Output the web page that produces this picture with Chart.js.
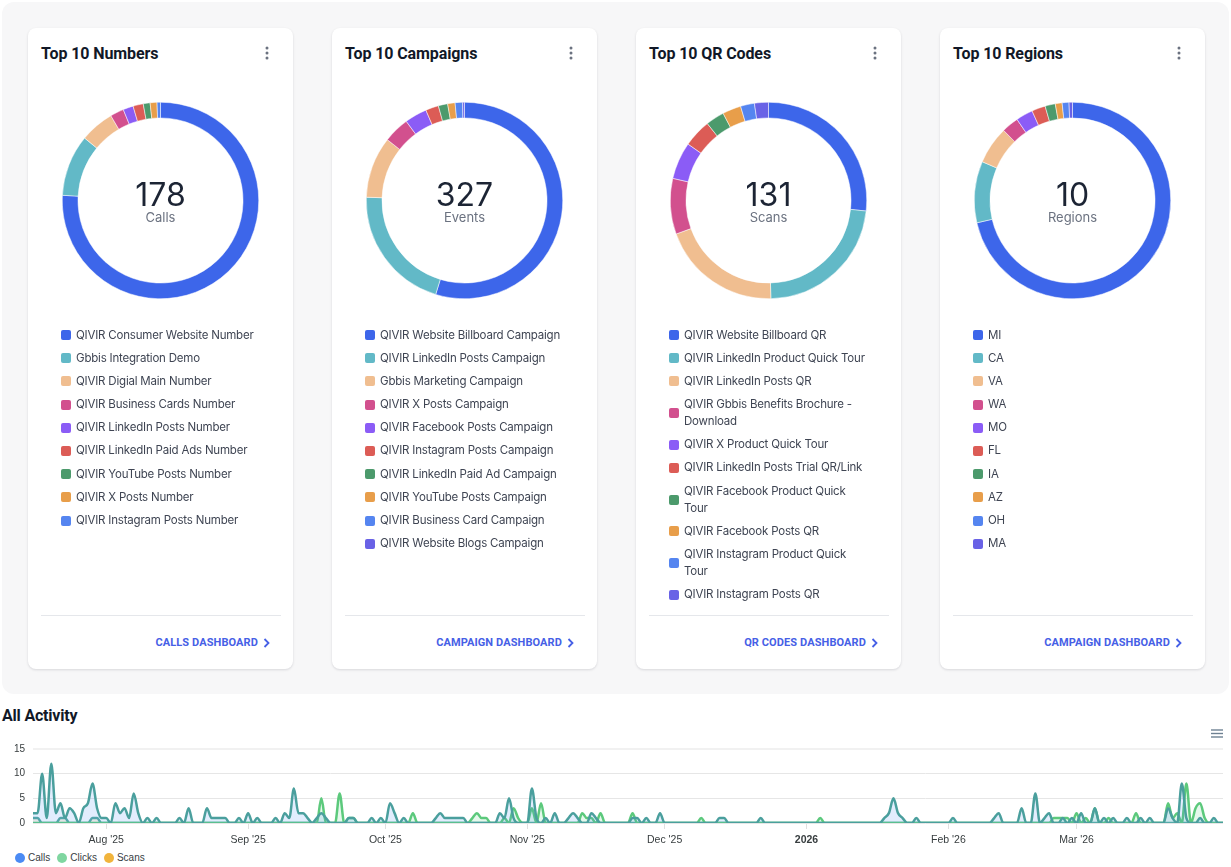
<!DOCTYPE html>
<html>
<head>
<meta charset="utf-8">
<script src="https://cdn.jsdelivr.net/npm/chart.js@4.4.0/dist/chart.umd.min.js"></script>
<style>
  body { margin: 0; width: 1231px; height: 867px; overflow: hidden; background: #fff; position: relative; font-family: Inter, sans-serif; }
  .panel { position: absolute; left: 2px; top: 2px; width: 1227px; height: 692px; background: #f7f7f8; border-radius: 12px; }
  .card { position: absolute; top: 28px; width: 265px; height: 641px; background: #fff; border-radius: 8px; box-shadow: 0 1px 3px rgba(16,24,40,0.10), 0 1px 2px rgba(16,24,40,0.04); }
  .title { position: absolute; left: 13px; top: 16px; font: 700 16px Roboto, sans-serif; line-height: 20px; color: #111827; letter-spacing: -0.1px; }
  .kebab { position: absolute; left: 237px; top: 18px; width: 4px; height: 14px; }
  .donut { position: absolute; left: 34px; top: 73.5px; width: 197px; height: 197px; }
  .center { position: absolute; left: 34px; top: 73.5px; width: 197px; height: 197px; text-align: center; pointer-events: none; }
  .num { position: absolute; left: 0; right: 0; top: 75px; font-size: 32px; line-height: 36px; color: #1c2434; font-weight: 400; }
  .unit { position: absolute; left: 0; right: 0; top: 107px; font-size: 13px; line-height: 16px; color: #6b7280; }
  ul.legend { position: absolute; left: 33px; top: 298.5px; width: 210px; margin: 0; padding: 0; list-style: none; }
  ul.legend li { display: flex; align-items: center; font-size: 11.5px; letter-spacing: -0.2px; line-height: 17px; color: #3f4553; margin-bottom: 6.2px; }
  ul.legend li span.sq { flex: 0 0 10px; width: 10px; height: 10px; border-radius: 2px; margin-right: 5px; }
  ul.legend li span.tx { max-width: 188px; }
  .divider { position: absolute; left: 13px; top: 587px; width: 240px; height: 1px; background: #e5e7eb; }
  .link { position: absolute; right: 23px; top: 607px; font: 700 11px Roboto, sans-serif; line-height: 16px; color: #4660e6; letter-spacing: 0.1px; display: flex; align-items: center; }
  .link svg { margin-left: 5px; }
  .act-title { position: absolute; left: 2px; top: 706px; font: 700 16px Roboto, sans-serif; line-height: 20px; color: #111827; letter-spacing: -0.2px; }
  .act-wrap { position: absolute; left: 0; top: 735px; width: 1231px; height: 115px; }
  .menu { position: absolute; left: 1211px; top: 729px; width: 12px; height: 9px; }
  .act-legend { position: absolute; left: 15px; top: 851px; font: 10px "Liberation Sans", Arial, sans-serif; color: #373d3f; display: flex; }
  .act-legend div { display: flex; align-items: center; margin-right: 7px; line-height: 14px; }
  .act-legend i { width: 10px; height: 10px; border-radius: 50%; margin-right: 3px; display: inline-block; }
</style>
</head>
<body>
<div class="panel"></div>
<div id="cards"></div>
<div class="act-title">All Activity</div>
<svg class="menu" viewBox="0 0 12 9"><g stroke="#6e8192" stroke-width="1.4"><line x1="0" y1="1" x2="12" y2="1"/><line x1="0" y1="4.5" x2="12" y2="4.5"/><line x1="0" y1="8" x2="12" y2="8"/></g></svg>
<div class="act-wrap"><canvas id="activity"></canvas></div>
<div class="act-legend" id="actLegend"></div>

<script>
// ---- donut cards ----
const sliceColors = ["#3d66ea", "#62b9c7", "#f0be90", "#d2508e", "#8b5cf6", "#dc5c56", "#4c9a6c", "#e89e4a", "#5585f0", "#6962e6"];

const cardTitles = ["Top 10 Numbers", "Top 10 Campaigns", "Top 10 QR Codes", "Top 10 Regions"];
const centerTotals = ["178", "327", "131", "10"];
const centerUnits = ["Calls", "Events", "Scans", "Regions"];
const linkTexts = ["CALLS DASHBOARD", "CAMPAIGN DASHBOARD", "QR CODES DASHBOARD", "CAMPAIGN DASHBOARD"];
const cardLefts = [28, 332, 636, 940];

const numbersLabels = ["QIVIR Consumer Website Number", "Gbbis Integration Demo", "QIVIR Digial Main Number", "QIVIR Business Cards Number", "QIVIR LinkedIn Posts Number", "QIVIR LinkedIn Paid Ads Number", "QIVIR YouTube Posts Number", "QIVIR X Posts Number", "QIVIR Instagram Posts Number"];
const numbersValues = [135, 18, 10, 4, 3, 3, 2, 2, 1];

const campaignsLabels = ["QIVIR Website Billboard Campaign", "QIVIR LinkedIn Posts Campaign", "Gbbis Marketing Campaign", "QIVIR X Posts Campaign", "QIVIR Facebook Posts Campaign", "QIVIR Instagram Posts Campaign", "QIVIR LinkedIn Paid Ad Campaign", "QIVIR YouTube Posts Campaign", "QIVIR Business Card Campaign", "QIVIR Website Blogs Campaign"];
const campaignsValues = [179, 68, 33, 14, 12, 7, 5, 4, 4, 1];

const qrLabels = ["QIVIR Website Billboard QR", "QIVIR LinkedIn Product Quick Tour", "QIVIR LinkedIn Posts QR", "QIVIR Gbbis Benefits Brochure - Download", "QIVIR X Product Quick Tour", "QIVIR LinkedIn Posts Trial QR/Link", "QIVIR Facebook Product Quick Tour", "QIVIR Facebook Posts QR", "QIVIR Instagram Product Quick Tour", "QIVIR Instagram Posts QR"];
const qrValues = [35, 30, 26, 12, 8, 6, 4, 4, 3, 3];

const regionsLabels = ["MI", "CA", "VA", "WA", "MO", "FL", "IA", "AZ", "OH", "MA"];
const regionsValues = [127, 18, 11, 5, 5, 4, 3, 2, 2, 1];

const donutLabels = [numbersLabels, campaignsLabels, qrLabels, regionsLabels];
const donutValues = [numbersValues, campaignsValues, qrValues, regionsValues];

const cardsEl = document.getElementById("cards");
cardTitles.forEach((title, i) => {
  const card = document.createElement("div");
  card.className = "card";
  card.style.left = cardLefts[i] + "px";
  let items = "";
  donutLabels[i].forEach((lab, j) => {
    items += `<li><span class="sq" style="background:${sliceColors[j]}"></span><span class="tx">${lab}</span></li>`;
  });
  card.innerHTML = `
    <div class="title">${title}</div>
    <svg class="kebab" viewBox="0 0 4 14"><g fill="#6b7280"><circle cx="2" cy="2" r="1.5"/><circle cx="2" cy="7" r="1.5"/><circle cx="2" cy="12" r="1.5"/></g></svg>
    <div class="donut"><canvas id="donut${i}"></canvas></div>
    <div class="center"><div class="num">${centerTotals[i]}</div><div class="unit">${centerUnits[i]}</div></div>
    <ul class="legend">${items}</ul>
    <div class="divider"></div>
    <div class="link">${linkTexts[i]}<svg width="7" height="10" viewBox="0 0 7 10"><path d="M1.5 1 L5.5 5 L1.5 9" fill="none" stroke="#4660e6" stroke-width="1.8"/></svg></div>`;
  cardsEl.appendChild(card);

  new Chart(document.getElementById("donut" + i), {
    type: "doughnut",
    data: {
      labels: donutLabels[i],
      datasets: [{
        data: donutValues[i],
        backgroundColor: sliceColors.slice(0, donutValues[i].length),
        borderColor: "#ffffff",
        borderWidth: 0.5,
      }],
    },
    options: {
      responsive: true,
      maintainAspectRatio: false,
      animation: false,
      cutout: "84%",
      events: [],
      plugins: { legend: { display: false }, tooltip: { enabled: false } },
    },
  });
});

// ---- all activity ----
// day 0 = Jul 16 2025; [day, value] for days with activity, all other days are 0
const lastDay = 260;
const monthTicks = [16, 47, 77, 108, 138, 169, 200, 228];
const monthLabels = ["Aug '25", "Sep '25", "Oct '25", "Nov '25", "Dec '25", "2026", "Feb '26", "Mar '26"];

const calls = [[0,2],[1,2],[2,10],[3,1],[4,12],[5,2],[6,4],[7,1],[8,3],[9,2],[11,3],[12,4],[13,8],[14,3],[15,1],[16,1],
  [18,4],[19,2],[20,3],[21,1],[22,6],[23,2],[25,1],[27,1],[32,1],[34,3],[38,3],[39,1],[40,1],[41,1],[42,1],[45,1],
  [47,2],[49,1],[53,1],[55,2],[56,1],[57,7],[58,2],[59,2],[60,1],[62,1],[63,2],[64,1],[69,1],[70,1],[74,1],[76,1],
  [78,4],[79,2],[81,1],[88,1],[89,2],[90,1],[91,1],[92,1],[93,1],[94,1],[102,2],[103,1],[104,5],[105,1],[109,7],[110,1],
  [112,1],[114,2],[117,1],[118,2],[119,1],[122,2],[123,1],[131,1],[132,1],[134,1],[137,2],[150,1],[151,1],[159,1],
  [186,1],[187,2],[188,5],[189,2],[190,1],[193,1],[201,1],[210,1],[211,2],[216,3],[219,6],[221,1],[222,2],[225,1],
  [227,1],[229,2],[232,3],[234,1],[236,1],[239,1],[242,1],[244,1],[248,3],[249,1],[251,8],[252,1],[255,1],[258,1]];
const clicks = [[63,5],[67,6],[69,1],[70,1],[83,2],[96,1],[97,2],[98,1],[99,1],[103,1],[105,3],[106,1],[109,3],[111,4],
  [120,2],[121,1],[122,1],[124,2],[131,2],[146,1],[172,1],[223,1],[224,1],[225,1],[226,1],[228,2],[230,1],[232,3],
  [235,1],[241,2],[248,4],[249,1],[250,2],[252,8],[254,3],[255,4],[256,1]];
const scans = [[0,1],[1,1],[6,1],[7,1],[13,1],[14,1]];

const seriesNames = ["Calls", "Clicks", "Scans"];
const legendColors = ["#4b8bf4", "#7fd6a0", "#f1b43c"];
const lineColors = ["#4a9f9d", "#5cc97c", "#55a89e"];
const fillColors = ["rgba(77,142,245,0.16)", "rgba(110,214,150,0.18)", "rgba(242,180,60,0.15)"];

function toDaily(pairs) {
  const pts = [];
  for (let d = 0; d <= lastDay; d++) pts.push({ x: d, y: 0 });
  pairs.forEach(([d, v]) => { pts[d].y = v; });
  return pts;
}

const tickFont = { family: "'Liberation Sans', Arial, sans-serif", size: 10.5 };

new Chart(document.getElementById("activity"), {
  type: "line",
  data: {
    datasets: [calls, clicks, scans].map((s, i) => ({
      label: seriesNames[i],
      data: toDaily(s),
      borderColor: lineColors[i],
      backgroundColor: fillColors[i],
      borderWidth: 2.5,
      fill: "origin",
      pointRadius: 0,
      cubicInterpolationMode: "monotone",
    })),
  },
  options: {
    responsive: true,
    maintainAspectRatio: false,
    animation: false,
    events: [],
    layout: { padding: { left: 0, right: 8, top: 12, bottom: 0 } },
    plugins: { legend: { display: false }, tooltip: { enabled: false } },
    scales: {
      x: {
        type: "linear",
        min: 0,
        max: lastDay,
        afterBuildTicks: (scale) => { scale.ticks = monthTicks.map((v) => ({ value: v })); },
        afterFit: (scale) => { scale.height = 27; },
        ticks: {
          autoSkip: false,
          maxRotation: 0,
          padding: 5,
          color: "#373d3f",
          callback: (v) => monthLabels[monthTicks.indexOf(v)],
          font: (c) => ({ ...tickFont, weight: monthLabels[c.index] === "2026" ? "bold" : "normal" }),
        },
        grid: { drawOnChartArea: false, drawTicks: true, tickLength: 6, color: "#e0e0e0" },
        border: { display: false },
      },
      y: {
        min: 0,
        max: 15,
        afterFit: (scale) => { scale.width = 33; },
        ticks: { stepSize: 5, padding: 8, color: "#373d3f", font: { ...tickFont, size: 10 } },
        grid: {
          drawTicks: false,
          color: (c) => (c.tick && c.tick.value === 15 ? "#f1f1f1" : "#e6e6e6"),
          lineWidth: (c) => (c.tick && c.tick.value === 15 ? 2 : 1),
        },
        border: { display: false },
      },
    },
  },
});

const legEl = document.getElementById("actLegend");
seriesNames.forEach((n, i) => {
  const d = document.createElement("div");
  d.innerHTML = `<i style="background:${legendColors[i]}"></i>${n}`;
  legEl.appendChild(d);
});
</script>
</body>
</html>
